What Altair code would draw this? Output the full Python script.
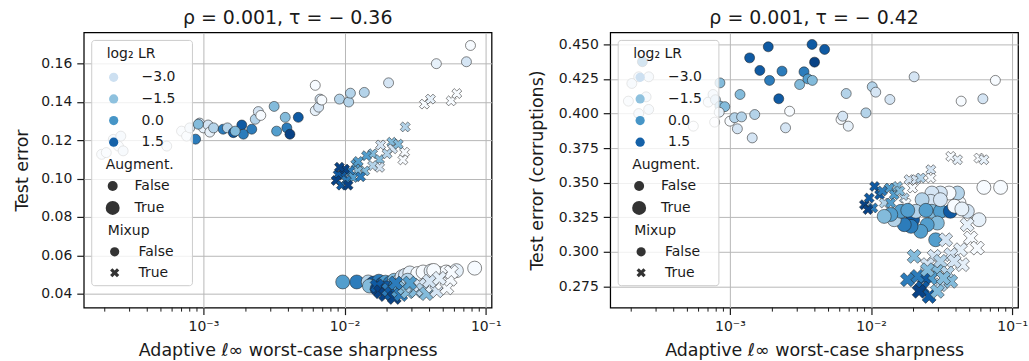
import altair as alt
import pandas as pd

# ---------------- data ----------------
# LEFT panel: Test error
L_plain_x = [1.9e-4, 2.05e-4, 2.3e-4, 2.6e-4, 2.5e-4, 2.7e-4, 5.5e-4, 7.0e-4, 7.6e-4, 8.0e-4, 8.8e-4,
             9.4e-4, 1.0e-3, 1.08e-3, 1.11e-3, 1.18e-3, 1.38e-3, 1.48e-3, 1.63e-3, 1.87e-3, 1.92e-3,
             2.2e-3, 2.33e-3, 2.45e-3, 2.55e-3, 3.17e-3, 3.3e-3, 3.8e-3, 3.9e-3, 4.1e-3, 4.7e-3,
             6.2e-3, 6.2e-3, 6.55e-3, 6.7e-3, 6.9e-3, 9.2e-3, 1.07e-2, 1.1e-2, 1.38e-2, 2.05e-2,
             4.47e-2, 7.3e-2, 7.8e-2, 9.2e-4, 1.68e-3]
L_plain_y = [0.1127, 0.1136, 0.1205, 0.1222, 0.1170, 0.1145, 0.1170, 0.1248, 0.1222, 0.1265, 0.1206,
             0.1290, 0.1265, 0.1280, 0.1243, 0.1265, 0.1258, 0.1265, 0.1240, 0.1280, 0.1232,
             0.1258, 0.1310, 0.1350, 0.1330, 0.1377, 0.1248, 0.1320, 0.1265, 0.1232, 0.1320,
             0.1487, 0.1355, 0.1373, 0.1415, 0.1410, 0.1415, 0.1400, 0.1446, 0.1450, 0.1500,
             0.1600, 0.1610, 0.1695, 0.1284, 0.1248]
L_plain_lr = [-4.0, -4.0, -3.3, -3.3, -4.0, -3.3, -4.0, -4.0, -4.0, -3.3, 0.7,
              -3.3, -4.0, -3.3, -4.0, -2.3, 0.7, -2.3, 1.7, 1.7, 0.7,
              0.7, -2.3, -3.3, -4.6, -1.3, -0.3, -1.3, 0.7, 2.4, 1.7,
              -4.6, -4.0, -3.3, -3.3, -4.6, -2.3, -2.3, -2.3, -2.3, -3.3,
              -4.0, -3.3, -4.6, -1.3, -1.3]

L_mix_x = [0.0368, 0.0406, 0.0569, 0.0624, 0.0269, 0.0180, 0.0216, 0.0219, 0.0266, 0.0259,
           0.0158, 0.0143, 0.0177, 0.0177, 0.0158, 0.0139, 0.0120, 0.0124, 0.0109, 0.0115,
           0.0097, 0.0090, 0.0087, 0.0095, 0.0103, 0.0100, 0.0092, 0.0106, 0.0125, 0.0200,
           0.0240, 0.0130]
L_mix_y = [0.1389, 0.1415, 0.1406, 0.1444, 0.1270, 0.1176, 0.1190, 0.1156, 0.1138, 0.1098,
           0.1130, 0.1120, 0.1100, 0.1059, 0.1068, 0.1040, 0.1075, 0.1040, 0.1040, 0.1006,
           0.1020, 0.1020, 0.0990, 0.0966, 0.0990, 0.1050, 0.1060, 0.0966, 0.1090, 0.1130,
           0.1180, 0.1010]
L_mix_lr = [-4.6, -4.0, -4.6, -4.6, -2.3, -3.3, -1.3, -3.3, -4.6, -4.6,
            -1.3, -0.3, -1.3, -3.3, -2.3, -1.3, -0.3, -1.3, 0.7, -0.3,
            1.7, 1.7, 2.4, 1.7, 0.7, 2.4, 2.4, 2.4, -0.3, -2.3,
            -1.3, 0.7]

L_aug_x = [0.0097, 0.0122, 0.0147, 0.0160, 0.0175, 0.0185, 0.0195, 0.0210, 0.0225, 0.0240,
           0.0255, 0.0270, 0.0290, 0.0330, 0.0360, 0.0410, 0.0470, 0.0525, 0.0620, 0.0835,
           0.0150, 0.0200, 0.0230, 0.0280, 0.0170, 0.0428]
L_aug_y = [0.0461, 0.0461, 0.0461, 0.0455, 0.0465, 0.0450, 0.0460, 0.0455, 0.0470, 0.0462,
           0.0488, 0.0496, 0.0508, 0.0505, 0.0513, 0.0518, 0.0505, 0.0513, 0.0520, 0.0533,
           0.0440, 0.0430, 0.0440, 0.0470, 0.0425, 0.0521]
L_aug_lr = [-0.3, 0.7, -2.3, 1.7, 0.7, 1.7, -0.3, 0.7, -1.3, -2.3,
            -3.3, -3.3, -4.0, -4.6, -4.6, -4.0, -4.6, -4.6, -4.0, -4.6,
            -1.3, 1.7, 0.7, -2.3, 2.4, -4.6]

L_am_x = [0.0170, 0.0180, 0.0195, 0.0205, 0.0215, 0.0225, 0.0240, 0.0250, 0.0265, 0.0280,
          0.0300, 0.0320, 0.0340, 0.0360, 0.0380, 0.0420, 0.0450, 0.0490, 0.0530, 0.0560,
          0.0230, 0.0290, 0.0400, 0.0570, 0.0470]
L_am_y = [0.0440, 0.0410, 0.0395, 0.0420, 0.0400, 0.0380, 0.0415, 0.0395, 0.0430, 0.0410,
          0.0440, 0.0415, 0.0445, 0.0420, 0.0400, 0.0440, 0.0415, 0.0455, 0.0430, 0.0475,
          0.0455, 0.0455, 0.0465, 0.0513, 0.0480]
L_am_lr = [1.7, 2.4, 2.4, 0.7, 1.7, 2.4, -0.3, 0.7, -1.3, -1.3,
           -2.3, -1.3, -3.3, -2.3, -1.3, -4.0, -3.3, -4.6, -4.6, -4.6,
           0.7, -0.3, -3.3, -4.6, -4.0]

# RIGHT panel: Test error (corruptions)
R_plain_x = [1.38e-3, 1.87e-3, 1.63e-3, 1.91e-3, 2.34e-3, 2.22e-3, 3.35e-3, 3.12e-3, 3.57e-3, 3.84e-3,
             3.82e-3, 3.98e-3, 4.69e-3, 1.91e-4, 2.02e-4, 2.26e-4, 2.4e-4, 2.66e-4, 2.55e-4, 2.66e-4,
             2.26e-4, 5.51e-4, 7.03e-4, 7.6e-4, 7.9e-4, 8.5e-4, 8.5e-4, 9.2e-4, 7.8e-4, 8.4e-4,
             1.0e-3, 1.08e-3, 1.21e-3, 1.13e-3, 1.18e-3, 1.5e-3, 1.44e-3, 2.48e-3, 2.65e-3, 6.13e-3,
             6.3e-3, 6.67e-3, 6.9e-3, 9.2e-3, 1.02e-2, 1.08e-2, 1.36e-2, 2.02e-2, 4.35e-2, 6.2e-2,
             7.6e-2]
R_plain_y = [0.4403, 0.4483, 0.4312, 0.4240, 0.4307, 0.4107, 0.4302, 0.4210, 0.4251, 0.4240,
             0.4500, 0.4372, 0.4464, 0.4090, 0.4218, 0.4266, 0.4375, 0.4266, 0.4121, 0.4030,
             0.4000, 0.3909, 0.4083, 0.4138, 0.4100, 0.4222, 0.4054, 0.4050, 0.3938, 0.4010,
             0.3945, 0.3970, 0.3976, 0.3890, 0.4138, 0.3993, 0.3824, 0.3897, 0.4017, 0.3957,
             0.3981, 0.4145, 0.3909, 0.4005, 0.4194, 0.4155, 0.4102, 0.4266, 0.4090, 0.4107,
             0.4240]
R_plain_lr = [1.7, 1.7, 1.7, 0.7, 0.7, 1.7, 0.7, -1.3, -0.3, -1.3,
              1.7, 2.4, 1.7, -4.0, -3.3, -3.3, 0.7, -3.3, -3.3, -3.3,
              -3.3, -4.6, -4.0, -3.3, -2.3, -1.3, -1.3, -1.3, -4.6, -4.0,
              -4.6, -2.3, -2.3, -3.3, -1.3, -2.3, -3.3, -3.3, -4.6, -4.6,
              -3.3, -2.3, -4.0, -2.3, -2.3, -3.3, -3.3, -3.3, -4.6, -3.3,
              -4.6]

R_mix_x = [0.00897, 0.0097, 0.0106, 0.0115, 0.0103, 0.0095, 0.0135, 0.0146, 0.0154, 0.0124,
           0.0138, 0.0172, 0.0186, 0.0208, 0.0225, 0.0265, 0.0265, 0.0177, 0.0197, 0.0367,
           0.0410, 0.0582, 0.0630, 0.0160, 0.0120]
R_mix_y = [0.3341, 0.3389, 0.3473, 0.3413, 0.3317, 0.3305, 0.3461, 0.3413, 0.3473, 0.3353,
           0.3353, 0.3389, 0.3522, 0.3522, 0.3534, 0.3594, 0.3534, 0.3353, 0.3461, 0.3690,
           0.3666, 0.3678, 0.3666, 0.3440, 0.3440]
R_mix_lr = [2.4, 1.7, 1.7, 1.7, 0.7, 2.4, -0.3, -0.3, -1.3, -2.3,
            -0.3, -2.3, -3.3, -3.3, -2.3, -3.3, -4.6, -4.6, -4.6, -4.6,
            -4.0, -4.6, -4.0, -1.3, 0.7]

R_aug_x = [0.0828, 0.0630, 0.0582, 0.0481, 0.0420, 0.0410, 0.0357, 0.0310, 0.0270, 0.0265,
           0.0230, 0.0270, 0.0310, 0.0365, 0.0295, 0.0250, 0.0225, 0.0197, 0.0192, 0.0172,
           0.0146, 0.0163, 0.0138, 0.0124, 0.0208, 0.0182, 0.0245, 0.0287, 0.0310, 0.0390,
           0.0440]
R_aug_y = [0.3466, 0.3466, 0.3232, 0.3293, 0.3353, 0.3425, 0.3425, 0.3425, 0.3425, 0.3365,
           0.3377, 0.3293, 0.3293, 0.3293, 0.3208, 0.3196, 0.3148, 0.3232, 0.3184, 0.3196,
           0.3232, 0.3293, 0.3270, 0.3256, 0.3293, 0.3300, 0.3300, 0.3087, 0.3377, 0.3330,
           0.3310]
R_aug_lr = [-4.6, -4.6, -4.0, -3.3, -4.6, -2.3, -4.6, -3.3, -3.3, -3.3,
            -2.3, -1.3, -0.3, 1.7, -1.3, -0.3, -0.3, 1.7, 0.7, 0.7,
            -2.3, -0.3, -0.3, -1.3, -2.3, -0.3, -0.3, -0.3, -3.3, -4.6,
            -4.0]

R_am_x = [0.0480, 0.0508, 0.0566, 0.0430, 0.0338, 0.0367, 0.0444, 0.0388, 0.0202, 0.0280,
          0.0310, 0.0251, 0.0295, 0.0348, 0.0367, 0.0310, 0.0265, 0.0238, 0.0213, 0.0181,
          0.0231, 0.0258, 0.0219, 0.0295, 0.0251, 0.0326]
R_am_y = [0.3196, 0.3100, 0.3027, 0.3015, 0.3087, 0.2979, 0.2907, 0.2931, 0.2967, 0.2967,
          0.2931, 0.2907, 0.2858, 0.2846, 0.2786, 0.2762, 0.2810, 0.2810, 0.2822, 0.2798,
          0.2738, 0.2677, 0.2714, 0.2714, 0.2870, 0.2810]
R_am_lr = [-4.0, -4.6, -4.6, -4.0, -3.3, -3.3, -4.0, -3.3, -1.3, -3.3,
           -2.3, -3.3, -1.3, -2.3, -1.3, -2.3, -0.3, 1.7, 0.7, 0.7,
           1.7, 1.7, 2.4, -1.3, -1.3, -1.3]

LEFT_TITLE = "ρ = 0.001, τ = − 0.36"
RIGHT_TITLE = "ρ = 0.001, τ = − 0.42"
X_TITLE = "Adaptive ℓ∞ worst-case sharpness"
LEFT_YTITLE = "Test error"
RIGHT_YTITLE = "Test error (corruptions)"
X_MAJOR = [0.001, 0.01, 0.1]
X_MINOR = [k * 10.0 ** e for e in (-4, -3, -2) for k in range(2, 10)]
LEFT_YTICKS = [0.04, 0.06, 0.08, 0.10, 0.12, 0.14, 0.16]
RIGHT_YTICKS = [0.275, 0.300, 0.325, 0.350, 0.375, 0.400, 0.425, 0.450]
LR_LEGEND = [-3.0, -1.5, 0.0, 1.5]
AUG_LEVELS = [False, True]
MIX_LEVELS = ["False", "True"]

# ---------------- styling ----------------
FONT = "DejaVu Sans"
INK = "#1a1a1a"
W, H = 409, 276
X_DOMAIN = [1.42e-4, 0.11]
BLUES = ["#f7fbff", "#deebf7", "#c6dbef", "#9ecae1", "#6baed6",
         "#4292c6", "#2171b5", "#08519c", "#08306b"]
LR_MIN, LR_MAX = -4.6, 2.9
LR_STOPS = [LR_MIN + i * (LR_MAX - LR_MIN) / 8 for i in range(9)]
X_PATH = ("M-1,-0.5L-0.5,-1L0,-0.5L0.5,-1L1,-0.5L0.5,0L1,0.5L0.5,1"
          "L0,0.5L-0.5,1L-1,0.5L-0.5,0Z")


def frame(groups):
    rows = []
    for xs, ys, lrs, aug, mix in groups:
        for a, b, c in zip(xs, ys, lrs):
            rows.append({"sharp": a, "err": b, "lr": c, "aug": aug, "mix": mix})
    return pd.DataFrame(rows)


left_df = frame([
    (L_plain_x, L_plain_y, L_plain_lr, False, "False"),
    (L_mix_x, L_mix_y, L_mix_lr, False, "True"),
    (L_aug_x, L_aug_y, L_aug_lr, True, "False"),
    (L_am_x, L_am_y, L_am_lr, True, "True"),
])
right_df = frame([
    (R_plain_x, R_plain_y, R_plain_lr, False, "False"),
    (R_mix_x, R_mix_y, R_mix_lr, False, "True"),
    (R_aug_x, R_aug_y, R_aug_lr, True, "False"),
    (R_am_x, R_am_y, R_am_lr, True, "True"),
])
minor_df = pd.DataFrame({"sharp": X_MINOR})

x_labels = "datum.value < 0.005 ? '10⁻³' : (datum.value < 0.05 ? '10⁻²' : '10⁻¹')"


def panel(df, title, ytitle, yticks, ydomain, yfmt, ytitle_pad):
    xscale = alt.Scale(type="log", domain=X_DOMAIN, nice=False)
    xaxis = alt.Axis(values=X_MAJOR, labelExpr=x_labels, title=X_TITLE,
                     grid=True, labelPadding=5, titlePadding=8)
    pts = alt.Chart(df).mark_point(
        filled=True, opacity=1, stroke="#222222", strokeWidth=0.6, strokeOpacity=0.9
    ).encode(
        x=alt.X("sharp:Q", scale=xscale, axis=xaxis),
        y=alt.Y("err:Q", scale=alt.Scale(domain=ydomain, nice=False, zero=False),
                axis=alt.Axis(values=yticks, format=yfmt, title=ytitle, grid=True,
                              labelPadding=5, titlePadding=ytitle_pad)),
        color=alt.Color("lr:Q",
                        scale=alt.Scale(domain=LR_STOPS, range=BLUES, interpolate="rgb"),
                        legend=alt.Legend(type="symbol", values=LR_LEGEND, title="log₂ LR",
                                          orient="none", legendX=23, legendY=15,
                                          direction="vertical", symbolType="circle",
                                          symbolSize=85, symbolStrokeWidth=0,
                                          labelOffset=21, rowPadding=7.7, titlePadding=9,
                                          labelExpr="replace(format(datum.value, '.1f'), '-', '−')")),
        size=alt.Size("aug:N", scale=alt.Scale(domain=AUG_LEVELS, range=[100, 196]),
                      legend=alt.Legend(title="Augment.", orient="none", legendX=22, legendY=126,
                                        direction="vertical", symbolFillColor="#333333",
                                        symbolStrokeWidth=0, labelOffset=15,
                                        rowPadding=8, titlePadding=7,
                                        labelExpr="datum.value ? 'True' : 'False'")),
        shape=alt.Shape("mix:N", scale=alt.Scale(domain=MIX_LEVELS, range=["circle", X_PATH]),
                        legend=alt.Legend(title="Mixup", orient="none", legendX=24, legendY=192,
                                          direction="vertical", symbolFillColor="#333333",
                                          symbolStrokeWidth=0, symbolSize=85,
                                          labelOffset=17, rowPadding=7, titlePadding=7)),
    )
    minor = alt.Chart(minor_df).mark_rule(color=INK, strokeWidth=1).encode(
        x=alt.X("sharp:Q", scale=xscale, axis=xaxis),
        y=alt.value(H),
        y2=alt.value(H + 4),
    )
    box = alt.Chart(pd.DataFrame({"k": [0]})).mark_rect(
        fill="white", fillOpacity=0.8, stroke="#cccccc", strokeWidth=1, cornerRadius=3
    ).encode(
        x=alt.value(8), x2=alt.value(109), y=alt.value(8), y2=alt.value(254)
    )
    return alt.layer(pts, minor, box).properties(
        width=W, height=H, title=alt.TitleParams(title, anchor="middle", offset=4)
    )


left = panel(left_df, LEFT_TITLE, LEFT_YTITLE, LEFT_YTICKS, [0.0327, 0.1763], ".2f", 9)
right = panel(right_df, RIGHT_TITLE, RIGHT_YTITLE, RIGHT_YTICKS, [0.2596, 0.4587], ".3f", 12)

chart = alt.hconcat(left, right, spacing=119, bounds="flush").resolve_scale(
    color="independent", size="independent", shape="independent"
).properties(
    padding={"left": 13, "top": 8, "right": 0, "bottom": 0}
).configure_view(
    stroke="black", strokeWidth=1.25
).configure_axis(
    labelFont=FONT, titleFont=FONT, labelFontSize=14, titleFontSize=17.5,
    titleFontWeight="normal", labelColor=INK, titleColor=INK,
    gridColor="#b8b8b8", gridWidth=1, tickColor=INK, tickSize=7, tickWidth=1.2,
    domain=False
).configure_legend(
    labelFont=FONT, titleFont=FONT, labelFontSize=14, titleFontSize=14,
    titleFontWeight="normal", labelColor=INK, titleColor=INK,
    padding=0, titleAnchor="start", titleAlign="left"
).configure_title(
    font=FONT, fontSize=19, fontWeight="normal", color=INK
)

chart.save("out.html", embed_options={"renderer": "svg", "actions": False})
